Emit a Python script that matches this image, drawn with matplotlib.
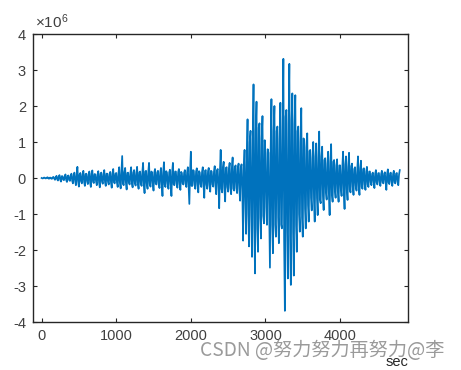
import matplotlib
matplotlib.use("Agg")
import matplotlib.pyplot as plt
import numpy as np

# Positive peaks (x1e6) at t = 0, 40, ..., 4800 s
t_pos = list(range(0, 4801, 40))
pos = [0.00, 0.01, 0.02, 0.01, 0.03, 0.06, 0.08, 0.05, 0.10, 0.07,
       0.12, 0.15, 0.31, 0.14, 0.20, 0.12, 0.18, 0.21, 0.10, 0.19,
       0.15, 0.22, 0.12, 0.17, 0.25, 0.14, 0.30, 0.61, 0.28, 0.15,
       0.30, 0.22, 0.31, 0.18, 0.42, 0.20, 0.42, 0.16, 0.25, 0.20,
       0.28, 0.44, 0.15, 0.23, 0.42, 0.18, 0.25, 0.14, 0.22, 0.30,
       0.73, 0.20, 0.27, 0.15, 0.30, 0.22, 0.28, 0.18, 0.33, 0.25,
       0.78, 0.45, 0.30, 0.42, 0.57, 0.35, 0.40, 0.38, 0.78, 1.63,
       1.31, 2.60, 2.12, 1.52, 1.72, 0.69, 0.70, 2.19, 2.00, 1.43,
       2.09, 3.31, 1.89, 3.17, 2.35, 2.30, 1.43, 1.94, 1.06, 1.24,
       0.78, 1.00, 0.96, 1.29, 0.87, 0.55, 0.73, 0.94, 0.50, 0.52,
       0.35, 0.73, 0.60, 0.70, 0.40, 0.30, 0.60, 0.48, 0.27, 0.31,
       0.18, 0.15, 0.22, 0.14, 0.20, 0.16, 0.24, 0.15, 0.20, 0.14,
       0.22]

# Negative peaks (x1e6) at t = 20, 60, ..., 4780 s
t_neg = list(range(20, 4800, 40))
neg = [-0.01, -0.01, -0.02, -0.02, -0.05, -0.07, -0.10, -0.06, -0.11, -0.08,
       -0.15, -0.20, -0.24, -0.15, -0.22, -0.17, -0.25, -0.14, -0.20, -0.26,
       -0.16, -0.22, -0.18, -0.27, -0.15, -0.25, -0.29, -0.20, -0.32, -0.18,
       -0.26, -0.21, -0.30, -0.22, -0.42, -0.30, -0.24, -0.35, -0.18, -0.28,
       -0.50, -0.25, -0.30, -0.50, -0.20, -0.27, -0.33, -0.18, -0.25, -0.72,
       -0.22, -0.30, -0.40, -0.25, -0.55, -0.30, -0.38, -0.24, -0.45, -0.84,
       -0.40, -0.65, -0.38, -0.45, -0.35, -0.42, -0.63, -1.74, -1.55, -1.90,
       -2.19, -2.65, -2.05, -1.68, -1.26, -1.30, -2.49, -2.09, -1.63, -1.81,
       -1.40, -3.69, -2.79, -2.97, -2.71, -2.05, -1.49, -1.63, -1.40, -1.21,
       -0.90, -1.21, -1.03, -0.70, -0.89, -0.60, -1.03, -0.66, -0.55, -0.66,
       -0.50, -0.86, -0.61, -0.40, -0.47, -0.35, -0.47, -0.30, -0.33, -0.25,
       -0.20, -0.28, -0.18, -0.22, -0.15, -0.33, -0.17, -0.22, -0.15, -0.20]

# Typical (core) amplitude (x1e6) between the peaks, at t = 0, 40, ..., 4800 s
core = [0.01, 0.01, 0.01, 0.02, 0.02, 0.04, 0.05, 0.05, 0.06, 0.06,
        0.08, 0.09, 0.10, 0.10, 0.11, 0.10, 0.12, 0.11, 0.10, 0.12,
        0.11, 0.12, 0.11, 0.13, 0.12, 0.13, 0.15, 0.16, 0.14, 0.13,
        0.15, 0.14, 0.16, 0.15, 0.18, 0.17, 0.18, 0.15, 0.16, 0.15,
        0.17, 0.19, 0.16, 0.17, 0.18, 0.16, 0.17, 0.15, 0.16, 0.18,
        0.22, 0.18, 0.19, 0.17, 0.20, 0.19, 0.20, 0.18, 0.21, 0.20,
        0.30, 0.28, 0.25, 0.28, 0.30, 0.28, 0.30, 0.32, 0.60, 1.00,
        1.05, 1.30, 1.40, 1.10, 1.05, 0.80, 0.85, 1.30, 1.30, 1.10,
        1.30, 1.70, 1.50, 1.60, 1.50, 1.30, 1.00, 1.10, 0.85, 0.75,
        0.55, 0.60, 0.55, 0.60, 0.50, 0.40, 0.45, 0.45, 0.35, 0.35,
        0.30, 0.38, 0.32, 0.33, 0.25, 0.22, 0.28, 0.25, 0.18, 0.18,
        0.12, 0.12, 0.13, 0.11, 0.12, 0.11, 0.13, 0.11, 0.12, 0.10,
        0.12]

x_ticks = [0, 1000, 2000, 3000, 4000]
y_ticks = [-4, -3, -2, -1, 0, 1, 2, 3, 4]

# build one trace: peak+, core-, peak-, core+, ...
t_list, v_list = [], []
for i in range(len(t_pos)):
    t_list.append(t_pos[i]); v_list.append(pos[i])
    if i < len(t_neg):
        t_list.append(t_pos[i] + 10); v_list.append(-core[i])
        t_list.append(t_neg[i]); v_list.append(neg[i])
        t_list.append(t_neg[i] + 10); v_list.append(core[i])
t = np.array(t_list, dtype=float)
v = np.array(v_list) * 1e6

plt.rcParams['font.family'] = ['Liberation Sans', 'DejaVu Sans']
plt.rcParams['mathtext.fontset'] = 'custom'
plt.rcParams['mathtext.rm'] = 'Liberation Sans'

fig = plt.figure(figsize=(4.61, 3.70), dpi=100)
ax = fig.add_axes([33/461, 1 - 322/370, 375/461, 288/370])
ax.plot(t, v, color='#0072BD', lw=1.25)
ax.set_xlim(-115, 4910)
ax.set_ylim(-4e6, 4e6)
ax.set_xticks(x_ticks)
ax.set_xticklabels([str(x) for x in x_ticks])
ax.set_yticks([y * 1e6 for y in y_ticks])
ax.set_yticklabels([str(y) for y in y_ticks])
dark = '#262626'
for s in ax.spines.values():
    s.set_color(dark)
    s.set_linewidth(1.0)
ax.tick_params(direction='in', length=3, width=0.8, colors=dark,
               labelsize=10.5, top=True, right=True, pad=5)
for lab in ax.get_xticklabels() + ax.get_yticklabels():
    lab.set_color('#404040')

fig.text(35/461, 1 - 22/370, r'$\times\mathregular{10^{6}}$', fontsize=11,
         color='#404040', ha='left', va='center')
fig.text(397/461, 1 - 362/370, 'sec', fontsize=10.5, color=dark,
         ha='center', va='center')
fig.text(200/461, 1 - 351/370, 'CSDN @努力努力再努力@李', fontsize=13.8,
         color='#9a9a9a', ha='left', va='center',
         family=['Noto Sans CJK SC', 'DejaVu Sans'])

fig.savefig('out.png', dpi=100)
